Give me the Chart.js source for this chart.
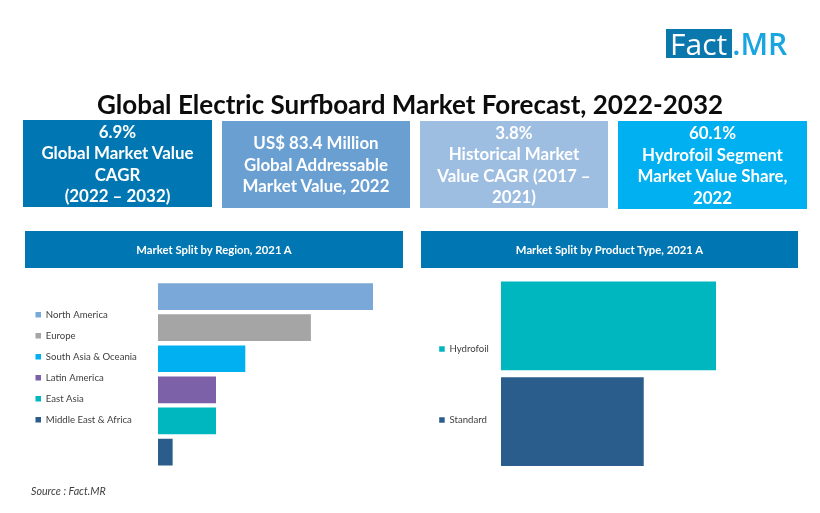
<!DOCTYPE html>
<html><head><meta charset="utf-8">
<script src="https://cdn.jsdelivr.net/npm/chart.js@4"></script>
<style>
html,body{margin:0;padding:0;background:#fff;width:820px;height:513px;overflow:hidden}
#page{position:relative;width:820px;height:513px;font-family:Lato,sans-serif;filter:blur(0.45px)}
#page>*{position:absolute;box-sizing:border-box}
.tile{color:#fff;font-weight:700;font-size:16.9px;line-height:21.5px;text-align:center;display:flex;align-items:center;justify-content:center;white-space:nowrap}
.head{background:#0077b2;color:#fff;font-weight:700;font-size:11.3px;display:flex;align-items:center;justify-content:center;height:37px;top:231px}
#title{left:0;width:820px;top:88px;text-align:center;font-size:26px;font-weight:700;color:#0c0c0c;line-height:32px;white-space:nowrap}
#source{left:31px;top:484px;font-size:10.7px;font-style:italic;color:#404040}
#logo{left:666px;top:29px;height:29px;width:124px;font-size:30px;line-height:29px;font-family:"Open Sans",sans-serif;white-space:nowrap}
#logo b{font-weight:400;display:inline-block;background:#0a77ad;color:#fff;padding:0 5px 0 4px;height:29px}
#logo span{color:#19a5e0;font-weight:600}
canvas{position:absolute;top:275px}
</style></head><body>
<div id="page">
<div id="logo"><b>Fact</b><span>.MR</span></div>
<div id="title">Global Electric Surfboard Market Forecast, 2022-2032</div>
<div class="tile" style="left:23px;top:120px;width:189px;height:87px;background:#0077b2">6.9%<br>Global Market Value<br>CAGR<br>(2022 – 2032)</div>
<div class="tile" style="left:222px;top:121px;width:188px;height:87px;background:#6a9fd2">US$ 83.4 Million<br>Global Addressable<br>Market Value, 2022</div>
<div class="tile" style="left:420px;top:121px;width:188px;height:87px;background:#9dbee1">3.8%<br>Historical Market<br>Value CAGR (2017 –<br>2021)</div>
<div class="tile" style="left:618px;top:121px;width:189px;height:88px;background:#00b0f0">60.1%<br>Hydrofoil Segment<br>Market Value Share,<br>2022</div>
<div class="head" style="left:25px;width:378px">Market Split by Region, 2021 A</div>
<div class="head" style="left:421px;width:377px">Market Split by Product Type, 2021 A</div>
<canvas id="c1" width="378" height="205" style="left:25px"></canvas>
<canvas id="c2" width="377" height="210" style="left:421px"></canvas>
<div id="source">Source : Fact.MR</div>
</div>
<script>
const regionLabels = ["North America","Europe","South Asia & Oceania","Latin America","East Asia","Middle East & Africa"];
const regionValues = [36.7,26.1,14.9,9.9,9.9,2.5];
const regionColors = ["#7aa9d9","#a5a5a5","#00b0f0","#7c60a8","#00b6bf","#2a5d8c"];
const productLabels = ["Hydrofoil","Standard"];
const productValues = [60.1,39.9];
const productColors = ["#00b6bf","#2a5d8c"];

function build(id, labels, values, colors, o){
  new Chart(document.getElementById(id),{
    type:'bar',
    data:{labels,datasets:[{data:values,backgroundColor:colors,categoryPercentage:1,barPercentage:o.bar,borderWidth:0}]},
    options:{
      responsive:false,animation:false,devicePixelRatio:1,indexAxis:'y',
      layout:{padding:o.pad},
      scales:{
        x:{display:true,min:0,max:o.max,ticks:{display:false},grid:{display:false},border:{display:false},
           afterFit(s){s.height=o.axisH;}},
        y:{display:false}
      },
      plugins:{
        tooltip:{enabled:false},
        legend:{
          position:'left',maxWidth:o.legendW,
          onClick:null,
          labels:{
            boxWidth:5.5,boxHeight:5.5,padding:o.pitch-9.6,color:'#404040',
            font:{family:'Lato',size:9.6},
            generateLabels:()=>labels.map((t,i)=>({text:t,fillStyle:colors[i],strokeStyle:colors[i],lineWidth:0,fontColor:'#404040',index:i}))
          }
        }
      }
    },
    plugins:[{id:'legendPlace',afterLayout(ch){
      const l=ch.legend;
      l.left=o.legendX-(o.pitch-9.6); l.right=ch.width;
      l.top+=o.legendDy; l.bottom+=o.legendDy;
    }}]
  });
}
build('c1',regionLabels,regionValues,regionColors,{bar:0.86,max:36.7,legendW:100,pitch:21,legendX:10.5,legendDy:-13.2,axisH:12.4,
  pad:{left:33,right:30,top:6,bottom:0}});
build('c2',productLabels,productValues,productColors,{bar:0.927,max:60.1,legendW:50,pitch:71,legendX:18.2,legendDy:3,axisH:15.4,
  pad:{left:30,right:82,top:3,bottom:0}});
</script>
</body></html>
